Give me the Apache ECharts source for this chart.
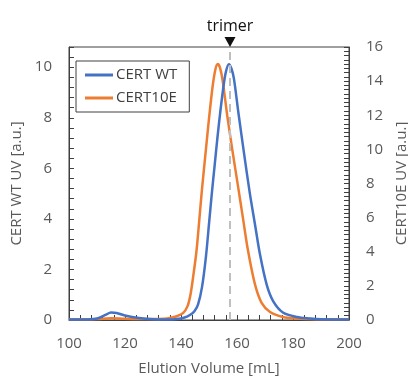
<!DOCTYPE html>
<html>
<head>
<meta charset="utf-8">
<script src="https://cdn.jsdelivr.net/npm/echarts@6/dist/echarts.min.js"></script>
<style>html,body{margin:0;padding:0;background:#fff}#c{width:408px;height:380px}</style>
</head>
<body>
<div id="c"></div>
<script>
// ---- data ----
const wtVolume = [100, 105, 110, 113, 115, 117, 120, 125, 130, 135, 138.6, 141, 143.2, 144.8, 146.1, 147.5, 148.9, 150, 151, 152, 153, 154, 155, 156, 157.1, 158, 158.9, 160.5, 162.5, 164.6, 166.4, 168.2, 170.6, 172.9, 176.4, 181.4, 186, 190, 200];
const wtUV     = [0.02, 0.02, 0.06, 0.2, 0.3, 0.28, 0.18, 0.08, 0.03, 0.02, 0.04, 0.09, 0.2, 0.35, 0.62, 1.3, 2.5, 3.8, 5.0, 6.1, 7.2, 8.2, 9.1, 9.8, 10.12, 9.95, 9.55, 8.2, 6.6, 5.0, 3.8, 2.6, 1.4, 0.75, 0.3, 0.12, 0.06, 0.03, 0.02];
const e10Volume = [100, 105, 110, 115, 120, 125, 130, 134, 136, 138.5, 140.7, 142.3, 143.4, 144.4, 145.5, 146.4, 147.4, 148.9, 150, 151.3, 152.3, 153.1, 153.9, 154.9, 156.5, 158.3, 160.4, 162.1, 163.9, 166.4, 168.8, 171.8, 176.4, 181, 186, 190, 200];
const e10UV     = [0.05, 0.05, 0.06, 0.1, 0.07, 0.06, 0.06, 0.08, 0.12, 0.22, 0.4, 0.8, 1.5, 2.6, 4.0, 5.6, 7.5, 10.0, 11.8, 13.7, 14.7, 15.0, 14.8, 14.0, 12.0, 10.0, 7.8, 6.0, 4.1, 2.1, 1.0, 0.47, 0.18, 0.09, 0.06, 0.05, 0.05];
const xTicks = [100, 120, 140, 160, 180, 200];
const leftTicks = [0, 2, 4, 6, 8, 10];
const rightTicks = [0, 2, 4, 6, 8, 10, 12, 14, 16];
const trimerVolume = 157.5;
const seriesNames = ['CERT WT', 'CERT10E'];

function pairs(xs, ys) { return xs.map((x, i) => [x, ys[i]]); }
function inList(list) { return v => list.some(t => Math.abs(t - v) < 1e-6) ? String(Math.round(v)) : ''; }

const FONT = '"Open Sans", "Liberation Sans", sans-serif';
const AX = '#404040';
const LBL = '#595959';

const chart = echarts.init(document.getElementById('c'), null, { renderer: 'canvas' });
chart.setOption({
  animation: false,
  backgroundColor: '#fff',
  textStyle: { fontFamily: FONT },
  grid: { left: 69, right: 59, top: 47, bottom: 60, show: true, borderColor: AX, borderWidth: 1, backgroundColor: 'transparent', outerBoundsMode: 'none', containLabel: false },
  legend: {
    data: [{ name: seriesNames[0], icon: 'rect' }, { name: seriesNames[1], icon: 'rect' }],
    orient: 'vertical',
    left: 76, top: 61,
    padding: [5, 12, 5, 9],
    itemGap: 5,
    itemWidth: 28, itemHeight: 3,
    borderColor: AX, borderWidth: 1,
    textStyle: { fontFamily: FONT, fontSize: 15, color: '#404040', lineHeight: 18, padding: [0, 0, 0, -2] }
  },
  xAxis: {
    type: 'value', min: 100, max: 200, interval: 4,
    name: 'Elution Volume [mL]', nameLocation: 'middle', nameGap: 41,
    nameTextStyle: { fontFamily: FONT, fontSize: 15, color: LBL },
    axisLine: { show: true, lineStyle: { color: AX, width: 1 } },
    axisTick: { show: true, inside: true, length: 5, lineStyle: { color: AX } },
    axisLabel: { formatter: inList(xTicks), fontFamily: FONT, fontSize: 15, color: LBL, margin: 16, showMinLabel: true, showMaxLabel: true },
    splitLine: { show: false }
  },
  yAxis: [{
    type: 'value', min: 0, max: 10.8, interval: 0.4, position: 'left',
    name: 'CERT WT UV [a.u.]', nameLocation: 'middle', nameGap: 42, nameRotate: 90,
    nameTextStyle: { fontFamily: FONT, fontSize: 15, color: LBL },
    axisLine: { show: true, lineStyle: { color: AX, width: 1 } },
    axisTick: { show: true, inside: true, length: 5, lineStyle: { color: AX } },
    axisLabel: { formatter: inList(leftTicks), fontFamily: FONT, fontSize: 15, color: LBL, margin: 17 },
    splitLine: { show: false }
  }, {
    type: 'value', min: 0, max: 16, interval: 0.25, position: 'right',
    name: 'CERT10E UV [a.u.]', nameLocation: 'middle', nameGap: 42, nameRotate: 90,
    nameTextStyle: { fontFamily: FONT, fontSize: 15, color: LBL },
    axisLine: { show: true, lineStyle: { color: AX, width: 1 } },
    axisTick: { show: true, inside: true, length: 5, lineStyle: { color: AX } },
    axisLabel: { formatter: inList(rightTicks), fontFamily: FONT, fontSize: 15, color: LBL, margin: 17 },
    splitLine: { show: false }
  }],
  series: [{
    name: seriesNames[1], type: 'line', yAxisIndex: 1,
    data: pairs(e10Volume, e10UV),
    smooth: 0.3, symbol: 'none',
    lineStyle: { color: '#ED7D31', width: 2.5 },
    itemStyle: { color: '#ED7D31' },
    z: 3,
    markPoint: {
      silent: true,
      data: [{ coord: [trimerVolume, 16], symbol: 'triangle', symbolRotate: 180, symbolSize: [11, 10], symbolOffset: [0, -5],
        itemStyle: { color: '#111' },
        label: { show: true, position: 'top', distance: 3, formatter: 'trimer', fontFamily: FONT, fontSize: 16, color: '#111' } }]
    }
  }, {
    name: seriesNames[0], type: 'line', yAxisIndex: 0,
    data: pairs(wtVolume, wtUV),
    smooth: 0.3, symbol: 'none',
    lineStyle: { color: '#4472C4', width: 2.5 },
    itemStyle: { color: '#4472C4' },
    z: 4,
    markLine: {
      silent: true, symbol: 'none', animation: false,
      label: { show: false },
      lineStyle: { color: '#BFBFBF', width: 2, type: [8, 5] },
      data: [{ xAxis: trimerVolume }]
    }
  }]
});
</script>
</body>
</html>
